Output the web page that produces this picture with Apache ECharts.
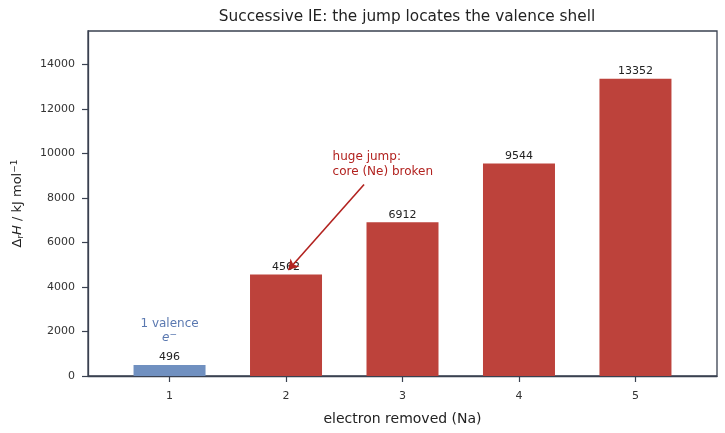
<!DOCTYPE html>
<html>
<head>
<meta charset="utf-8">
<script src="https://cdn.jsdelivr.net/npm/echarts@6/dist/echarts.min.js"></script>
<style>
  html, body { margin: 0; padding: 0; background: #fff; }
  #grafico { width: 725px; height: 433px; }
</style>
</head>
<body>
<div id="grafico"></div>
<script>
// datos
var electrones = [1, 2, 3, 4, 5];
var energias = [496, 4562, 6912, 9544, 13352];
var colores = ["#7090c0", "#bd423b", "#bd423b", "#bd423b", "#bd423b"];
var ticksY = [0, 2000, 4000, 6000, 8000, 10000, 12000, 14000];

function getDatos(){
    var retornar = [];
    electrones.forEach((x, i) => {
        retornar.push({ value: [x, energias[i]], itemStyle: { color: colores[i] } });
    });
    return retornar;
}

var dom = document.getElementById("grafico");
var myChart = echarts.init(dom);
var fuente = "DejaVu Sans";
var option = {
    animation: false,
    textStyle: { fontFamily: fuente },
    title: {
        text: "Successive IE: the jump locates the valence shell",
        left: 402,
        textAlign: "center",
        top: 5,
        textStyle: { fontSize: 15.3, fontWeight: "normal", color: "#222", fontFamily: fuente }
    },
    grid: {
        left: 88, right: 8, top: 31, bottom: 57,
        show: true, borderColor: "#3a4150", borderWidth: 1.3,
        containLabel: false
    },
    xAxis: {
        type: "value",
        min: 0.3,
        max: 5.7,
        name: "electron removed (Na)",
        nameLocation: "middle",
        nameGap: 36,
        nameTextStyle: { fontSize: 14, color: "#222" },
        splitLine: { show: false },
        axisLine: { show: true, lineStyle: { color: "#3a4150", width: 1.3 } },
        axisTick: { show: true, length: 6, customValues: electrones, lineStyle: { color: "#3a4150", width: 1.2 } },
        axisLabel: { customValues: electrones, fontSize: 11, color: "#333", margin: 15,
                     formatter: function(v){ return String(v); } }
    },
    yAxis: {
        type: "value",
        min: 0,
        max: 15500,
        name: "{n|Δ}{sub|r}{i|H}{n| / kJ mol}{sup|−1}",
        nameLocation: "middle",
        nameGap: 63,
        nameRotate: 90,
        nameTextStyle: {
            fontSize: 13, color: "#222",
            rich: {
                n: { fontSize: 13, color: "#222" },
                i: { fontSize: 13, color: "#222", fontStyle: "italic" },
                sub: { fontSize: 9, color: "#222", verticalAlign: "bottom", padding: [6, 0, 0, 0] },
                sup: { fontSize: 9, color: "#222", verticalAlign: "top", padding: [0, 0, 6, 0] }
            }
        },
        splitLine: { show: false },
        axisLine: { show: true, lineStyle: { color: "#3a4150", width: 1.3 } },
        axisTick: { show: true, length: 6, customValues: ticksY, lineStyle: { color: "#3a4150", width: 1.2 } },
        axisLabel: { customValues: ticksY, fontSize: 11, color: "#333", margin: 13,
                     formatter: function(v){ return String(v); } }
    },
    series: [{
        type: "bar",
        barWidth: 72,
        data: getDatos(),
        label: { show: true, position: "top", distance: 2, fontSize: 11, color: "#222",
                 formatter: function(p){ return p.value[1]; } },
        markLine: {
            silent: true,
            symbol: ["none", "arrow"],
            symbolSize: [9, 10],
            label: { show: false },
            lineStyle: { color: "#b2221f", width: 1.6, type: "solid" },
            data: [[{ coord: [2.67, 8600] }, { coord: [2.02, 4760] }]]
        },
        markPoint: {
            silent: true,
            symbol: "circle",
            symbolSize: 0,
            data: [
                {
                    coord: [2.4, 8850],
                    label: {
                        show: true, position: [0, 0], align: "left", verticalAlign: "bottom",
                        formatter: "huge jump:\ncore (Ne) broken",
                        fontSize: 12, color: "#b2221f", lineHeight: 15
                    }
                },
                {
                    coord: [1, 1420],
                    label: {
                        show: true, position: [0, 0], align: "center", verticalAlign: "bottom",
                        formatter: "{n|1 valence}\n{i|e}{s|−}",
                        rich: {
                            n: { fontSize: 12, color: "#5a78b0", lineHeight: 14 },
                            i: { fontSize: 12, color: "#5a78b0", fontStyle: "italic", lineHeight: 14 },
                            s: { fontSize: 9, color: "#5a78b0", verticalAlign: "top", lineHeight: 14 }
                        }
                    }
                }
            ]
        }
    }]
};
myChart.setOption(option, true);
window.addEventListener("resize", function(){
    if(myChart != null && myChart != undefined){
        myChart.resize();
    }
});
</script>
</body>
</html>
